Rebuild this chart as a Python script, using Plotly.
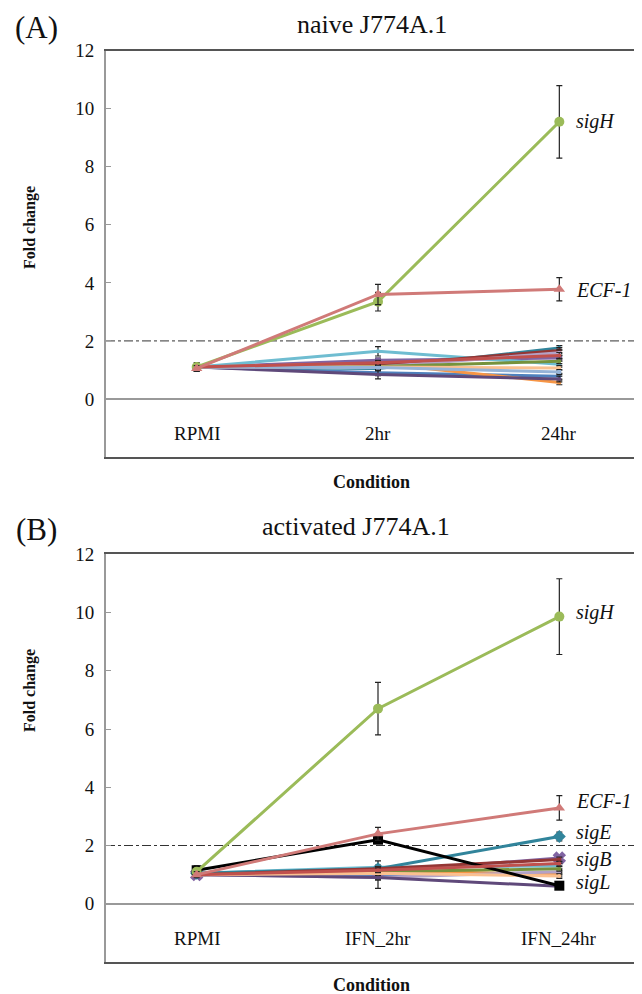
import plotly.graph_objects as go

# ---------------- data ----------------
categories_a = ["RPMI", "2hr", "24hr"]
categories_b = ["RPMI", "IFN_2hr", "IFN_24hr"]

genes = ["sigA", "sigB", "sigC", "sigD", "sigE", "sigF", "sigG",
         "sigH", "sigI", "sigJ", "sigK", "sigL", "sigM", "ECF-1"]

# panel A (naive J774A.1) fold change
naive = {
    "sigA": [1.10, 0.90, 0.78],
    "sigB": [1.10, 1.33, 1.41],
    "sigC": [1.10, 1.64, 1.20],
    "sigD": [1.10, 1.22, 0.57],
    "sigE": [1.10, 1.05, 1.76],
    "sigF": [1.10, 1.15, 1.67],
    "sigG": [1.10, 1.10, 1.59],
    "sigH": [1.10, 3.35, 9.55],
    "sigI": [1.10, 1.12, 1.30],
    "sigJ": [1.10, 0.84, 0.69],
    "sigK": [1.10, 1.10, 1.07],
    "sigL": [1.10, 1.08, 0.93],
    "sigM": [1.10, 1.25, 1.50],
    "ECF-1": [1.05, 3.60, 3.78],
}
naive_err = {
    "sigA": [0.05, 0.10, 0.10],
    "sigB": [0.05, 0.08, 0.10],
    "sigC": [0.05, 0.16, 0.10],
    "sigD": [0.05, 0.08, 0.08],
    "sigE": [0.05, 0.08, 0.08],
    "sigF": [0.05, 0.08, 0.10],
    "sigG": [0.05, 0.08, 0.10],
    "sigH": [0.15, 0.32, 1.25],
    "sigI": [0.05, 0.08, 0.08],
    "sigJ": [0.05, 0.15, 0.10],
    "sigK": [0.05, 0.08, 0.08],
    "sigL": [0.05, 0.08, 0.08],
    "sigM": [0.05, 0.08, 0.10],
    "ECF-1": [0.10, 0.35, 0.40],
}

# panel B (activated J774A.1) fold change
activated = {
    "sigA": [1.05, 1.00, 1.06],
    "sigB": [1.00, 1.10, 1.57],
    "sigC": [1.05, 1.25, 1.30],
    "sigD": [1.00, 1.15, 1.00],
    "sigE": [1.05, 1.20, 2.31],
    "sigF": [1.00, 1.20, 1.52],
    "sigG": [1.00, 0.90, 1.10],
    "sigH": [1.10, 6.70, 9.86],
    "sigI": [1.00, 1.10, 1.20],
    "sigJ": [1.00, 0.90, 0.60],
    "sigK": [1.00, 1.05, 0.95],
    "sigL": [1.15, 2.20, 0.62],
    "sigM": [1.00, 1.15, 1.38],
    "ECF-1": [1.00, 2.40, 3.29],
}
activated_err = {
    "sigA": [0.05, 0.47, 0.08],
    "sigB": [0.05, 0.08, 0.08],
    "sigC": [0.05, 0.08, 0.08],
    "sigD": [0.05, 0.08, 0.08],
    "sigE": [0.05, 0.10, 0.15],
    "sigF": [0.05, 0.08, 0.08],
    "sigG": [0.05, 0.08, 0.08],
    "sigH": [0.15, 0.90, 1.30],
    "sigI": [0.05, 0.08, 0.08],
    "sigJ": [0.05, 0.08, 0.08],
    "sigK": [0.05, 0.08, 0.08],
    "sigL": [0.15, 0.08, 0.06],
    "sigM": [0.05, 0.08, 0.08],
    "ECF-1": [0.10, 0.22, 0.42],
}

labels_a = {"sigH": 9.55, "ECF-1": 3.75}
labels_b = {"sigH": 10.0, "ECF-1": 3.52, "sigE": 2.44, "sigB": 1.51, "sigL": 0.72}

# ---------------- styles ----------------
colors_a = {
    "sigA": "#4F81BD", "sigB": "#8064A2", "sigC": "#6FBDD1", "sigD": "#F79646",
    "sigE": "#31849B", "sigF": "#943634", "sigG": "#B3A2C7", "sigH": "#9BBB59",
    "sigI": "#76923C", "sigJ": "#5F497A", "sigK": "#FAC090", "sigL": "#95B3D7",
    "sigM": "#C0504D", "ECF-1": "#D07A78",
}
colors_b = dict(colors_a)
colors_b["sigL"] = "#000000"
symbols = {
    "sigA": "diamond", "sigB": "x", "sigC": "circle", "sigD": "circle",
    "sigE": "diamond", "sigF": "square", "sigG": "circle", "sigH": "circle",
    "sigI": "circle", "sigJ": "circle", "sigK": "circle", "sigL": "square",
    "sigM": "circle", "ECF-1": "triangle-up",
}
big = {"sigH", "ECF-1"}
big_b = {"sigH", "ECF-1", "sigE", "sigL", "sigB"}

SERIF = "Liberation Serif, Times New Roman, serif"
order = [g for g in genes if g not in big] + [g for g in genes if g in big]

fig = go.Figure()


def add_panel(data, err, colors, xa, ya, shown):
    idx = [0, 1, 2]
    for g in order:
        sz = 10 if g in shown else 4
        fig.add_trace(go.Scatter(
            x=idx, y=data[g], mode="lines+markers", name=g,
            xaxis=xa, yaxis=ya, showlegend=False,
            line=dict(color=colors[g], width=3),
            marker=dict(symbol=symbols[g], size=sz, color=colors[g],
                        line=dict(width=1.5 if symbols[g] == "x" else 0,
                                  color=colors[g])),
            error_y=dict(type="data", array=err[g], visible=True,
                         color="#222222", thickness=1.2, width=3),
        ))


add_panel(naive, naive_err, colors_a, "x", "y", big)
add_panel(activated, activated_err, colors_b, "x2", "y2", big_b)

# page body has an 8px margin: layout is expressed in figure px (= screen px - 8)
W, H = 642, 994
x_dom = [98 / W, 1.0]
ya_dom = [(H - 449) / H, (H - 42.7) / H]
yb_dom = [(H - 954) / H, (H - 546.3) / H]
x_range = [-0.5, 2.5]

xax = dict(range=x_range, showticklabels=False, ticks="", showgrid=False,
           showline=True, mirror=True, linecolor="#555555", linewidth=1.5,
           zeroline=False, fixedrange=True, automargin=False)
yax = dict(range=[-2, 12], tickvals=[0, 2, 4, 6, 8, 10, 12], showgrid=False,
           ticks="inside", ticklen=5, tickcolor="#999999", tickwidth=1,
           showline=True, linecolor="#999999", linewidth=2,
           zeroline=True, zerolinecolor="#999999", zerolinewidth=1.5,
           tickfont=dict(family=SERIF, size=19, color="#111111"),
           ticklabelstandoff=6, automargin=False, fixedrange=True)

fig.update_layout(
    width=W, height=H, autosize=False,
    margin=dict(l=0, r=0, t=0, b=0, pad=0),
    paper_bgcolor="white", plot_bgcolor="white",
    xaxis=dict(domain=x_dom, anchor="y", **xax),
    yaxis=dict(domain=ya_dom, anchor="x", **yax),
    xaxis2=dict(domain=x_dom, anchor="y2", **xax),
    yaxis2=dict(domain=yb_dom, anchor="x2", **yax),
)

# 2-fold threshold lines
for xr, yr in (("x domain", "y"), ("x2 domain", "y2")):
    fig.add_shape(type="line", xref=xr, yref=yr, x0=0, x1=1, y0=2, y1=2,
                  line=dict(color="#333333", width=1, dash="dashdot"), layer="below")

annotations = []
# category labels inside plot
for cats, xr, yr in ((categories_a, "x", "y"), (categories_b, "x2", "y2")):
    for i, c in enumerate(cats):
        annotations.append(dict(x=i, y=-1.2, xref=xr, yref=yr, text=c,
                                xanchor="center", yanchor="middle", showarrow=False,
                                font=dict(family=SERIF, size=19, color="#111111")))
# gene labels
for labs, xr, yr in ((labels_a, "x", "y"), (labels_b, "x2", "y2")):
    for g, yv in labs.items():
        annotations.append(dict(x=2, y=yv, xref=xr, yref=yr, text="<i>%s</i>" % g,
                                xanchor="left", yanchor="middle", xshift=15,
                                showarrow=False,
                                font=dict(family=SERIF, size=20, color="#111111")))


def paper(px, py):
    return px / W, 1 - py / H


# titles / panel letters / axis titles (figure px)
px, py = paper(364, 0)
annotations.append(dict(x=px, y=py, xref="paper", yref="paper", text="naive J774A.1",
                        xanchor="center", yanchor="top", showarrow=False,
                        font=dict(family=SERIF, size=26, color="#111111")))
px, py = paper(348, 518)
annotations.append(dict(x=px, y=py, xref="paper", yref="paper", text="activated J774A.1",
                        xanchor="center", yanchor="middle", showarrow=False,
                        font=dict(family=SERIF, size=26, color="#111111")))
px, py = paper(28, 0)
annotations.append(dict(x=px, y=py, xref="paper", yref="paper", text="(A)",
                        xanchor="center", yanchor="top", showarrow=False,
                        font=dict(family=SERIF, size=31, color="#111111")))
px, py = paper(28, 521)
annotations.append(dict(x=px, y=py, xref="paper", yref="paper", text="(B)",
                        xanchor="center", yanchor="middle", showarrow=False,
                        font=dict(family=SERIF, size=31, color="#111111")))
for cy in (474, 977):
    px, py = paper(364, cy)
    annotations.append(dict(x=px, y=py, xref="paper", yref="paper",
                            text="<b>Condition</b>", xanchor="center",
                            yanchor="middle", showarrow=False,
                            font=dict(family=SERIF, size=18, color="#111111")))
for cy in (219, 682):
    px, py = paper(22, cy)
    annotations.append(dict(x=px, y=py, xref="paper", yref="paper",
                            text="<b>Fold change</b>", textangle=-90,
                            xanchor="center", yanchor="middle", showarrow=False,
                            font=dict(family=SERIF, size=16, color="#111111")))

fig.update_layout(annotations=annotations)

fig.write_html("out.html")
